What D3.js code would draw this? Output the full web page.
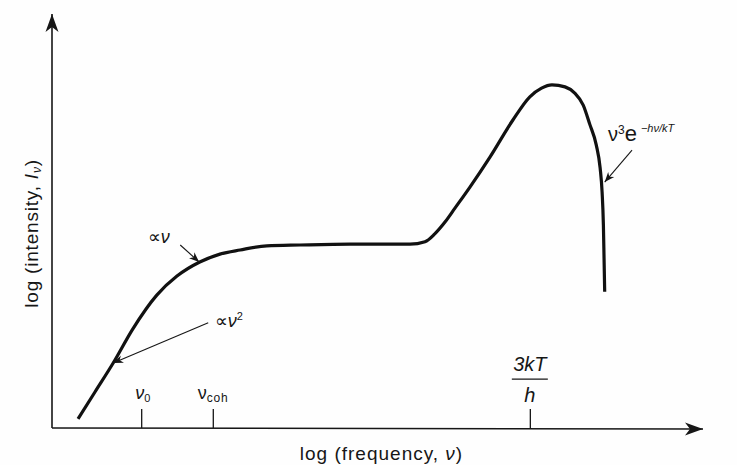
<!DOCTYPE html>
<html>
<head>
<meta charset="utf-8">
<script src="https://cdn.jsdelivr.net/npm/d3@7"></script>
<style>
  html, body { margin: 0; padding: 0; background: #fefefe; }
  svg { display: block; }
  text { font-family: "Liberation Sans", Arial, sans-serif; fill: #161616; }
  .it { font-style: italic; }
</style>
</head>
<body>
<svg></svg>
<script>
// spectrum, in arbitrary log units (x: log frequency, y: log intensity)
var logFreq = [4.0, 6.6, 9.4, 12.4, 16.1, 19.2, 22.7, 25.8, 28.9, 33.0, 38.1, 45.8, 55.0, 57.3, 58.8,
               60.4, 61.9, 64.2, 67.3, 70.8, 73.4, 75.2, 76.8, 78.8, 80.3, 81.6, 82.6, 83.6, 84.2, 84.5,
               84.7, 84.8, 84.9];
var logInt  = [2.2, 8.7, 15.7, 23.9, 32.1, 36.7, 40.1, 42.0, 43.0, 44.0, 44.2, 44.4, 44.4, 45.0, 46.9,
               49.8, 53.1, 58.2, 65.5, 74.4, 80.0, 82.1, 82.9, 82.4, 80.9, 78.0, 73.4, 68.4, 62.8, 57.0,
               49.0, 41.1, 32.9];
// marked frequencies on the x axis
var tickNames = ["nu0", "nucoh", "kT"];
var tickFreq  = [13.7, 24.7, 73.4];

var width = 737, height = 465;
var svg = d3.select("svg").attr("width", width).attr("height", height);

var x = d3.scaleLinear().domain([0, 100]).range([52, 703]);
var y = d3.scaleLinear().domain([0, 100]).range([428, 14]);

var defs = svg.append("defs");
// big notched head for the axes
defs.append("marker")
    .attr("id", "axhead").attr("markerUnits", "userSpaceOnUse")
    .attr("viewBox", "-20 -8 22 16").attr("markerWidth", 22).attr("markerHeight", 16)
    .attr("refX", 0).attr("refY", 0).attr("orient", "auto")
  .append("path").attr("d", "M0,0 L-18,-6.5 L-13,0 L-18,6.5 Z").attr("fill", "#161616");
// small head for the pointers
defs.append("marker")
    .attr("id", "pthead").attr("markerUnits", "userSpaceOnUse")
    .attr("viewBox", "-12 -6 14 12").attr("markerWidth", 14).attr("markerHeight", 12)
    .attr("refX", 0).attr("refY", 0).attr("orient", "auto")
  .append("path").attr("d", "M0,0 L-10,-4 L-7,0 L-10,4 Z").attr("fill", "#161616");

//Axes
svg.append("line")
    .attr("x1", x(0)).attr("y1", y(0)).attr("x2", x(0)).attr("y2", y(100))
    .attr("stroke", "#161616").attr("stroke-width", 1.6).attr("marker-end", "url(#axhead)");
svg.append("line")
    .attr("x1", x(0)).attr("y1", y(0)).attr("x2", x(100)).attr("y2", y(0) + 1)
    .attr("stroke", "#161616").attr("stroke-width", 1.6).attr("marker-end", "url(#axhead)");

var xAxis = svg.append("g")
    .attr("transform", "translate(0," + y(0) + ")")
    .call(d3.axisTop(x).tickValues(tickFreq).tickSize(19).tickFormat(""));
xAxis.select(".domain").remove();
xAxis.selectAll(".tick line").attr("stroke", "#161616").attr("stroke-width", 1.3);

svg.append("text")
    .attr("x", x(50) + 4).attr("y", 460)
    .attr("text-anchor", "middle").attr("font-size", 19).attr("letter-spacing", 1)
    .html('log (frequency, <tspan class="it">ν</tspan>)');

svg.append("text")
    .attr("transform", "translate(38," + y(47) + ") rotate(-90)")
    .attr("text-anchor", "middle").attr("font-size", 19).attr("letter-spacing", 0.8)
    .html('log (intensity, <tspan class="it">I</tspan><tspan class="it" font-size="12" dy="3">ν</tspan><tspan dy="-3">)</tspan>');

// tick labels
svg.append("text")
    .attr("x", x(tickFreq[0]) - 6).attr("y", y(7))
    .attr("font-size", 18)
    .html('<tspan class="it">ν</tspan><tspan font-size="11" dy="3">0</tspan>');
svg.append("text")
    .attr("x", x(tickFreq[1]) - 15).attr("y", y(7))
    .attr("font-size", 18)
    .html('ν<tspan font-size="12" dy="3" letter-spacing="0.8">coh</tspan>');
svg.append("text")
    .attr("x", x(tickFreq[2])).attr("y", y(13.8))
    .attr("text-anchor", "middle").attr("font-size", 20).attr("class", "it")
    .text("3kT");
svg.append("line")
    .attr("x1", x(tickFreq[2]) - 18).attr("x2", x(tickFreq[2]) + 18)
    .attr("y1", y(11.8)).attr("y2", y(11.8))
    .attr("stroke", "#161616").attr("stroke-width", 1.2);
svg.append("text")
    .attr("x", x(tickFreq[2])).attr("y", y(6.3))
    .attr("text-anchor", "middle").attr("font-size", 20).attr("class", "it")
    .text("h");

// spectrum curve
var pts = logFreq.map(function(f, i) { return [f, logInt[i]]; });
var line = d3.line()
    .x(function(d) { return x(d[0]); })
    .y(function(d) { return y(d[1]); })
    .curve(d3.curveMonotoneX);
svg.append("path")
    .datum(pts)
    .attr("d", line)
    .attr("fill", "none").attr("stroke", "#111").attr("stroke-width", 3.2)
    .attr("stroke-linecap", "butt").attr("stroke-linejoin", "round");

// pointers to the curve
var pointers = [
  {from: [24.0, 25.4], to: [9.4, 15.7]},
  {from: [19.7, 44.2], to: [22.6, 40.1]},
  {from: [89.1, 67.1], to: [84.9, 59.4]}
];
svg.selectAll(".pointer")
  .data(pointers)
  .enter().append("line")
    .attr("class", "pointer")
    .attr("x1", function(d) { return x(d.from[0]); })
    .attr("y1", function(d) { return y(d.from[1]); })
    .attr("x2", function(d) { return x(d.to[0]); })
    .attr("y2", function(d) { return y(d.to[1]); })
    .attr("stroke", "#161616").attr("stroke-width", 1.1)
    .attr("marker-end", "url(#pthead)");

svg.append("text")
    .attr("x", x(14.7)).attr("y", y(44.7)).attr("font-size", 18)
    .html('∝<tspan class="it">ν</tspan>');
svg.append("text")
    .attr("x", x(25.0)).attr("y", y(24.4)).attr("font-size", 18)
    .html('∝<tspan class="it">ν</tspan><tspan font-size="11" dy="-7">2</tspan>');
svg.append("text")
    .attr("x", x(85.4)).attr("y", y(69.3)).attr("font-size", 20)
    .html('ν<tspan font-size="12" dy="-7">3</tspan><tspan dy="7" font-size="22">e</tspan>' +
          '<tspan class="it" font-size="11" dx="4" dy="-9">−hν/kT</tspan>');
</script>
</body>
</html>
